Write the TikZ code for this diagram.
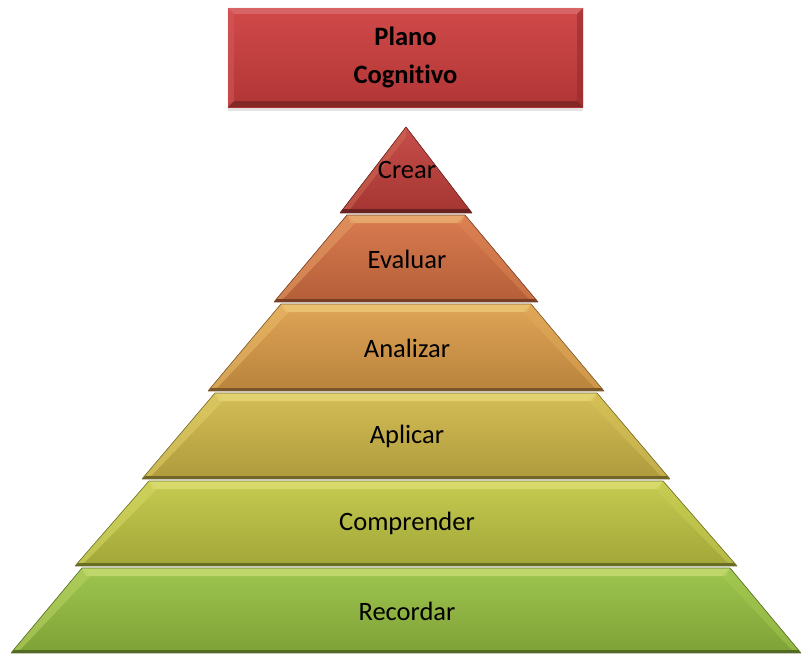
\documentclass[tikz,border=0pt]{standalone}
\usepackage{fontspec}
\setmainfont[Ligatures=NoCommon]{Carlito}
\usetikzlibrary{shadows,calc}

% band colours
\definecolor{crearC}{RGB}{192,62,58}
\definecolor{evaluarC}{RGB}{214,112,66}
\definecolor{analizarC}{RGB}{220,156,72}
\definecolor{aplicarC}{RGB}{208,184,72}
\definecolor{comprenderC}{RGB}{192,198,66}
\definecolor{recordarC}{RGB}{150,192,64}
\definecolor{planoC}{RGB}{206,62,62}
\definecolor{glow}{RGB}{255,250,170}

\tikzset{
  lbl/.style={font=\fontsize{26.5}{31}\selectfont, text=black, inner sep=0pt},
  titlebox/.style={rectangle, inner sep=0pt, minimum width=355pt, minimum height=99pt,
    top color=planoC!94!white, bottom color=planoC!86!black,
    drop shadow={shadow xshift=0pt, shadow yshift=-4pt, opacity=0.22}},
  titletext/.style={font=\fontsize{26.5}{38}\selectfont\bfseries, align=center, text=black},
}

% one bevelled pyramid band: #1 colour, #2 y bottom, #3 half bottom, #4 y top, #5 half top
\newcommand\pyrband[5]{%
  \fill[top color=#1!92!white, bottom color=#1!84!black]
    ({406-#3},#2) -- ({406+#3},#2) -- ({406+#5},#4) -- ({406-#5},#4) -- cycle;
  % top highlight
  \fill[#1!55!glow, opacity=0.85]
    ({406-#5},#4) -- ({406+#5},#4) -- ({406+#5-4},{#4+8}) -- ({406-#5+4},{#4+8}) -- cycle;
  % left side bevel
  \fill[#1!70!glow, opacity=0.6]
    ({406-#3},#2) -- ({406-#5},#4) -- ({406-#5+8},{#4+8}) -- ({406-#3+10},{#2-4}) -- cycle;
  % right side bevel
  \fill[#1!85!glow, opacity=0.5]
    ({406+#3},#2) -- ({406+#5},#4) -- ({406+#5-8},{#4+8}) -- ({406+#3-10},{#2-4}) -- cycle;
  % dark lower lip
  \fill[#1!55!black]
    ({406-#3},#2) -- ({406+#3},#2) -- ({406+#3-3},{#2-3}) -- ({406-#3+3},{#2-3}) -- cycle;
  \draw[#1!60!black, line width=0.6pt]
    ({406-#3},#2) -- ({406-#5},#4) -- ({406+#5},#4) -- ({406+#3},#2);
}

\begin{document}
\begin{tikzpicture}[x=1pt,y=-1pt]
\useasboundingbox (0,0) rectangle (801,656);

% title box with bevelled rim
\node[titlebox] (plano) at (405.5,57.5) {};
\fill[planoC!70!white, opacity=0.6]
  (plano.north west) -- (plano.north east) -- ($(plano.north east)+(-6,6)$) -- ($(plano.north west)+(6,6)$) -- cycle;
\fill[planoC!85!white, opacity=0.5]
  (plano.north west) -- ($(plano.north west)+(6,6)$) -- ($(plano.south west)+(6,-6)$) -- (plano.south west) -- cycle;
\fill[planoC!72!black, opacity=0.6]
  (plano.north east) -- ($(plano.north east)+(-6,6)$) -- ($(plano.south east)+(-6,-6)$) -- (plano.south east) -- cycle;
\fill[planoC!55!black, opacity=0.7]
  (plano.south west) -- (plano.south east) -- ($(plano.south east)+(-6,-6)$) -- ($(plano.south west)+(6,-6)$) -- cycle;
\node[titletext] (planotext) at (plano.center) {Plano\\Cognitivo};

% pyramid bands, base upwards
\pyrband{recordarC}{653}{395}{568}{324}
\pyrband{comprenderC}{566}{331}{481}{257}
\pyrband{aplicarC}{479}{264}{393}{191}
\pyrband{analizarC}{391}{198}{304}{125}
\pyrband{evaluarC}{302}{132}{215}{59}

% apex triangle
\fill[top color=crearC!92!white, bottom color=crearC!86!black]
  (340,213) -- (472,213) -- (406,127) -- cycle;
\fill[crearC!75!glow, opacity=0.5] (340,213) -- (406,127) -- (406,137) -- (350,209) -- cycle;
\fill[crearC!55!black] (340,213) -- (472,213) -- (469,209) -- (343,209) -- cycle;
\draw[crearC!60!black, line width=0.6pt] (340,213) -- (406,127) -- (472,213);

% labels
\node[lbl] (crear) at (407,170) {Crear};
\node[lbl] (evaluar) at (407,259) {Evaluar};
\node[lbl] (analizar) at (407,348) {Analizar};
\node[lbl] (aplicar) at (407,436) {Aplicar};
\node[lbl] (comprender) at (407,523) {Comprender};
\node[lbl] (recordar) at (407,611) {Recordar};
\end{tikzpicture}
\end{document}
